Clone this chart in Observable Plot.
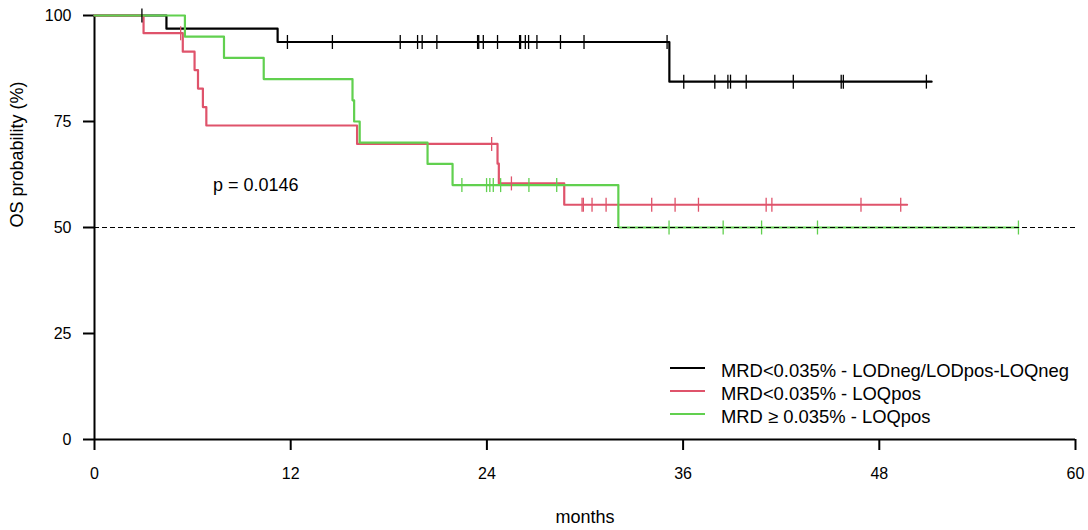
<!DOCTYPE html>
<html><head><meta charset="utf-8">
<script src="https://cdn.jsdelivr.net/npm/d3@7"></script>
<script src="https://cdn.jsdelivr.net/npm/@observablehq/plot@0.6"></script>
<style>
html,body{margin:0;padding:0;background:#fff;}
#wrap{position:relative;width:1088px;height:530px;font-family:"Liberation Sans",Arial,sans-serif;}
#legend{position:absolute;left:670px;top:359px;}
.row{display:flex;align-items:center;height:23px;font-size:18.4px;color:#000;white-space:nowrap;}
.row svg{position:relative;top:-3px;margin-right:16px;}
</style></head><body><div id="wrap"><div id="chart"></div><div id="legend"></div></div>
<script>
// Groups and colours
const groups = ["MRD<0.035% - LODneg/LODpos-LOQneg", "MRD<0.035% - LOQpos", "MRD \u2265 0.035% - LOQpos"];
const colors = ["#000000", "#DF536B", "#61D04F"];

// Kaplan-Meier steps (months, OS %)
const blackEventTimes = [4.4, 11.2, 35.16];
const blackSurv = [96.9, 93.75, 84.4];
const blackEnd = 51.2;
const blackCensor = [2.9, 11.8, 14.55, 18.7, 19.76, 20.04, 20.94, 23.43, 23.5, 23.78, 24.65, 26.0, 26.06, 26.35, 26.55, 27.06, 28.5, 29.94, 35.02, 36.04, 37.94, 38.74, 38.9, 39.86, 42.74, 45.67, 45.8, 50.88];

const redEventTimes = [3.0, 5.4, 6.12, 6.33, 6.63, 6.84, 16.06, 24.65, 24.73, 28.73];
const redSurv = [95.83, 91.48, 87.12, 82.77, 78.41, 74.06, 69.70, 65.05, 60.40, 55.37];
const redEnd = 49.7;
const redCensor = [5.27, 24.29, 25.5, 29.82, 29.9, 30.43, 31.29, 34.08, 35.51, 36.94, 41.08, 41.43, 46.88, 49.31];

const greenEventTimes = [5.53, 7.92, 10.35, 15.78, 15.88, 16.22, 20.37, 21.9, 32.04];
const greenSurv = [95, 90, 85, 80, 75, 70, 65, 60, 50];
const greenEnd = 56.5;
const greenCensor = [22.47, 23.98, 24.18, 24.39, 24.84, 26.57, 28.27, 35.14, 38.45, 40.8, 44.22, 56.51];

// Axis ticks and annotations
const xTicks = [0, 12, 24, 36, 48, 60];
const yTicks = [0, 25, 50, 75, 100];
const refLine = [50];
const pValue = [{t: 7.25, s: 60, label: "p = 0.0146"}];

const series = [
  {g: groups[0], times: blackEventTimes, surv: blackSurv, end: blackEnd, censor: blackCensor},
  {g: groups[1], times: redEventTimes, surv: redSurv, end: redEnd, censor: redCensor},
  {g: groups[2], times: greenEventTimes, surv: greenSurv, end: greenEnd, censor: greenCensor}
];
function survAt(times, surv, t) { let v = 100; times.forEach((ti, i) => { if (ti <= t) v = surv[i]; }); return v; }
const lineData = [], censorData = [];
for (const s of series) {
  lineData.push({g: s.g, t: 0, s: 100});
  s.times.forEach((t, i) => lineData.push({g: s.g, t, s: s.surv[i]}));
  lineData.push({g: s.g, t: s.end, s: s.surv[s.surv.length - 1]});
  s.censor.forEach(t => censorData.push({g: s.g, t, s: survAt(s.times, s.surv, t)}));
}
const vbar = {draw(ctx, size) { const r = Math.sqrt(size / Math.PI); ctx.moveTo(0, -r); ctx.lineTo(0, r); }};

const chart = Plot.plot({
  width: 1088, height: 530,
  marginTop: 15, marginBottom: 91, marginLeft: 94, marginRight: 13,
  style: {fontFamily: "'Liberation Sans', Arial, sans-serif", fontSize: "16px", color: "#000", background: "#fff"},
  x: {domain: [0, 60]},
  y: {domain: [0, 100]},
  color: {domain: groups, range: colors},
  marks: [
    Plot.axisX({ticks: xTicks, tickSize: 11, tickPadding: 17, strokeWidth: 2, label: null, fontSize: 16}),
    Plot.axisY({ticks: yTicks, tickSize: 11, tickPadding: 12, strokeWidth: 2, label: null, fontSize: 16}),
    Plot.ruleX([0], {y1: 0, y2: 100, strokeWidth: 2}),
    Plot.ruleY([0], {x1: 0, x2: 60, strokeWidth: 2}),
    Plot.line(lineData, {x: "t", y: "s", z: "g", stroke: "g", curve: "step-after", strokeWidth: 2.2}),
    Plot.dot(censorData, {x: "t", y: "s", stroke: "g", fill: "none", symbol: vbar, r: 7, strokeWidth: 1.3}),
    Plot.ruleY(refLine, {strokeDasharray: "5,3", strokeWidth: 1.2}),
    Plot.text(pValue, {x: "t", y: "s", text: "label", textAnchor: "start", fontSize: 18}),
    Plot.text(["OS probability (%)"], {text: d => d, frameAnchor: "left", dx: -77, rotate: -90, fontSize: 18}),
    Plot.text(["months"], {text: d => d, frameAnchor: "bottom", dy: 83, fontSize: 18})
  ]
});
document.getElementById("chart").appendChild(chart);

const legend = d3.select("#legend");
groups.forEach((g, i) => {
  const row = legend.append("div").attr("class", "row");
  const sv = row.append("svg").attr("width", 35).attr("height", 4);
  sv.append("line").attr("x1", 0).attr("x2", 35).attr("y1", 2).attr("y2", 2).attr("stroke", colors[i]).attr("stroke-width", 2);
  row.append("span").text(g);
});
</script></body></html>
